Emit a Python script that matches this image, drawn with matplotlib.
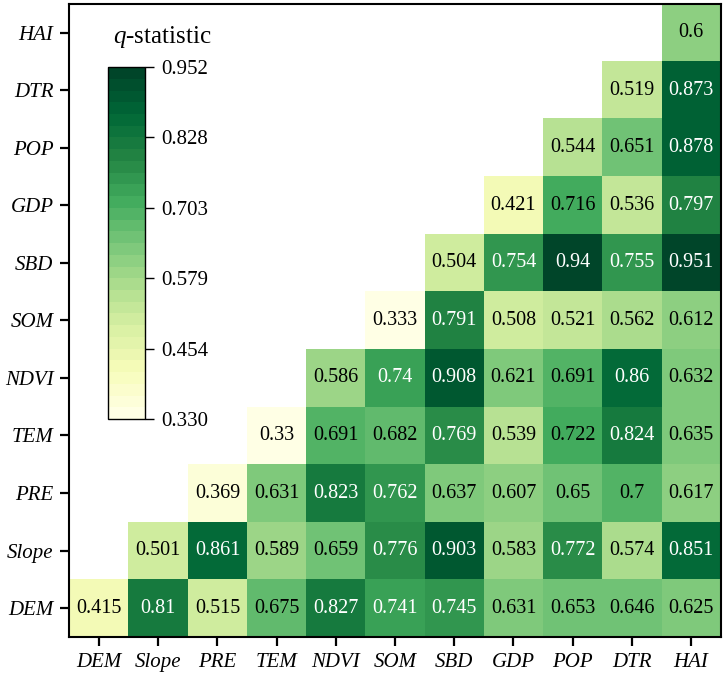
import numpy as np
import matplotlib
matplotlib.use('Agg')
import matplotlib.pyplot as plt

plt.rcParams['font.family'] = 'Liberation Serif'
plt.rcParams['mathtext.fontset'] = 'custom'
plt.rcParams['mathtext.rm'] = 'Liberation Serif'
plt.rcParams['mathtext.it'] = 'Liberation Serif:italic'

factors = ['DEM', 'Slope', 'PRE', 'TEM', 'NDVI', 'SOM', 'SBD', 'GDP', 'POP', 'DTR', 'HAI']

# each row starts at the diagonal (row factor == column factor)
dem_row = [0.415, 0.81, 0.515, 0.675, 0.827, 0.741, 0.745, 0.631, 0.653, 0.646, 0.625]
slope_row = [0.501, 0.861, 0.589, 0.659, 0.776, 0.903, 0.583, 0.772, 0.574, 0.851]
pre_row = [0.369, 0.631, 0.823, 0.762, 0.637, 0.607, 0.65, 0.7, 0.617]
tem_row = [0.33, 0.691, 0.682, 0.769, 0.539, 0.722, 0.824, 0.635]
ndvi_row = [0.586, 0.74, 0.908, 0.621, 0.691, 0.86, 0.632]
som_row = [0.333, 0.791, 0.508, 0.521, 0.562, 0.612]
sbd_row = [0.504, 0.754, 0.94, 0.755, 0.951]
gdp_row = [0.421, 0.716, 0.536, 0.797]
pop_row = [0.544, 0.651, 0.878]
dtr_row = [0.519, 0.873]
hai_row = [0.6]

rows = [dem_row, slope_row, pre_row, tem_row, ndvi_row, som_row,
        sbd_row, gdp_row, pop_row, dtr_row, hai_row]

vmin, vmax = 0.330, 0.952
cbar_ticks = [0.330, 0.454, 0.579, 0.703, 0.828, 0.952]

n = len(factors)
mat = np.full((n, n), np.nan)
for i, r in enumerate(rows):
    mat[i, i:] = r

fig = plt.figure(figsize=(7.26, 6.78), dpi=100)
ax = fig.add_axes([0.0957, 0.0605, 0.897, 0.934])

cmap = plt.get_cmap('YlGn', 30)
im = ax.imshow(np.ma.masked_invalid(mat), cmap=cmap, vmin=vmin, vmax=vmax,
               origin='lower', aspect='auto', interpolation='nearest')

for i in range(n):
    for j in range(i, n):
        v = mat[i, j]
        ax.text(j, i, '{:g}'.format(v), ha='center', va='center', fontsize=14.5,
                color='white' if v > 0.73 else 'black')

ax.set_xticks(range(n))
ax.set_yticks(range(n))
ax.set_xticklabels(factors, fontstyle='italic', fontsize=15)
ax.set_yticklabels(factors, fontstyle='italic', fontsize=15)
ax.tick_params(length=6.5, width=1.6, pad=5)
for s in ax.spines.values():
    s.set_linewidth(1.5)

cax = fig.add_axes([0.1488, 0.382, 0.051, 0.519])
cb = fig.colorbar(im, cax=cax, ticks=cbar_ticks)
cb.ax.set_yticklabels(['{:.3f}'.format(t) for t in cbar_ticks], fontsize=15)
cb.ax.tick_params(length=6.5, width=1.0, pad=5)
cb.outline.set_linewidth(1.0)
fig.text(162 / 726, 1 - 43 / 678, '$q$-statistic', fontsize=18,
         ha='center', va='baseline')

fig.savefig('out.png', dpi=100)
